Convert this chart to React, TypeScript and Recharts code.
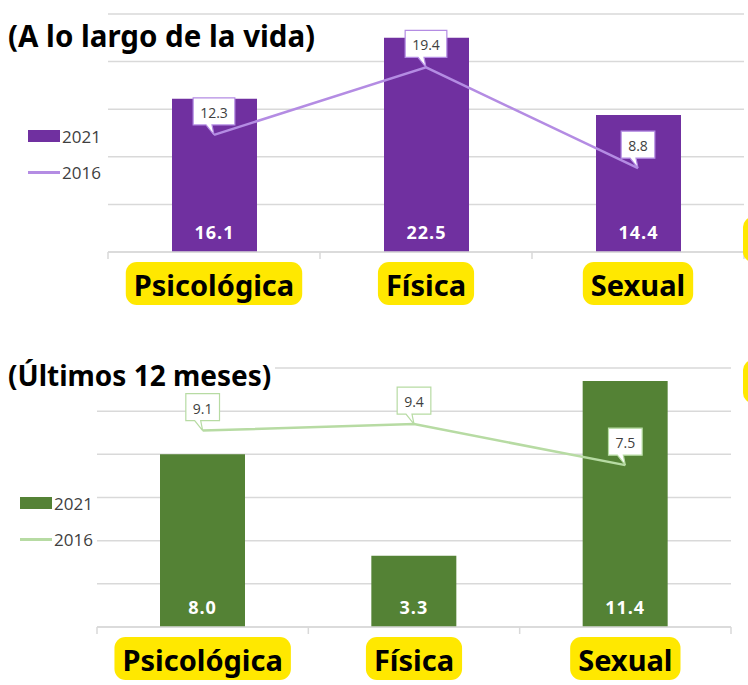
import React from 'react';
import { ComposedChart, Bar, Line, XAxis, YAxis, CartesianGrid, LabelList, Legend } from 'recharts';

const categories = ['Psicológica', 'Física', 'Sexual'];
const lifetime2021 = [16.1, 22.5, 14.4];
const lifetime2016 = [12.3, 19.4, 8.8];
const lastYear2021 = [8.0, 3.3, 11.4];
const lastYear2016 = [9.1, 9.4, 7.5];
const lifetimeTicks = [0, 5, 10, 15, 20, 25];
const lastYearTicks = [0, 2, 4, 6, 8, 10, 12];
const seriesNames = ['2021', '2016'];
const titles = ['(A lo largo de la vida)', '(Últimos 12 meses)'];

const lifetimeData = categories.map((c, i) => ({ name: c, v2021: lifetime2021[i], v2016: lifetime2016[i] }));
const lastYearData = categories.map((c, i) => ({ name: c, v2021: lastYear2021[i], v2016: lastYear2016[i] }));

const TITLE_FONT = '"Noto Sans", "Open Sans", sans-serif';
const SMALL_FONT = '"Open Sans", "Noto Sans", sans-serif';
const YELLOW = '#FFE800';

let canvasCtx: CanvasRenderingContext2D | null = null;
function measure(text: string, font: string): number {
  if (!canvasCtx) {
    const c = document.createElement('canvas');
    canvasCtx = c.getContext('2d');
  }
  if (!canvasCtx) return text.length * 10;
  canvasCtx.font = font;
  return canvasCtx.measureText(text).width;
}

const CategoryTick = (props: any) => {
  const { x, y, payload, width, visibleTicksCount } = props;
  const text = String(payload.value);
  const fontSize = 29;
  const tw = measure(text, `700 ${fontSize}px ${TITLE_FONT}`);
  const padX = 8;
  const n = visibleTicksCount || categories.length;
  const half = width ? width / n / 2 : 0;
  return (
    <g>
      {half > 0 && <line x1={x - half} y1={y} x2={x - half} y2={y + 7} stroke="#D9D9D9" strokeWidth={1.5} />}
      {half > 0 && props.index === n - 1 && (
        <line x1={x + half} y1={y} x2={x + half} y2={y + 7} stroke="#D9D9D9" strokeWidth={1.5} />
      )}
      <rect x={x - tw / 2 - padX} y={y + 10} width={tw + padX * 2} height={43} rx={11} ry={11} fill={YELLOW} />
      <text x={x} y={y + 32} textAnchor="middle" dominantBaseline="central" fontFamily={TITLE_FONT} fontWeight={700} fontSize={fontSize} fill="#000">
        {text}
      </text>
    </g>
  );
};

const makeCallout = (border: string) => (props: any) => {
  const { x, y, value } = props;
  const text = Number(value).toFixed(1);
  const tw = measure(text, `14px ${SMALL_FONT}`);
  const w = tw + 14;
  const h = 27;
  const bottom = y - 10;
  const left = x - w / 2;
  const top = bottom - h;
  const path = `M${left},${top} H${left + w} V${bottom} H${x - 2} L${x},${y} L${x - 8},${bottom} H${left} Z`;
  return (
    <g>
      <path d={path} fill="#FFFFFF" stroke={border} strokeWidth={1.2} />
      <text x={x} y={top + h / 2 + 1} textAnchor="middle" dominantBaseline="central" fontFamily={SMALL_FONT} fontSize={14} fill="#404040">
        {text}
      </text>
    </g>
  );
};

const BarValue = (props: any) => {
  const { x, y, width, height, value } = props;
  return (
    <text x={x + width / 2} y={y + height - 20} textAnchor="middle" dominantBaseline="central" fontFamily={SMALL_FONT} fontWeight={700} fontSize={18} letterSpacing={1} fill="#FFFFFF">
      {Number(value).toFixed(1)}
    </text>
  );
};

const LegendContent = (props: any) => {
  const items = [...(props.payload || [])].sort((a: any, b: any) => (a.type === 'rect' ? -1 : 0) - (b.type === 'rect' ? -1 : 0));
  return (
    <div style={{ fontFamily: SMALL_FONT, fontSize: 17, color: '#404040' }}>
      {items.map((p: any, i: number) => (
        <div key={i} style={{ display: 'flex', alignItems: 'center', height: 36 }}>
          {p.type === 'rect' ? (
            <div style={{ width: 32, height: 12, background: p.color, marginRight: 2 }} />
          ) : (
            <div style={{ width: 32, height: 3, background: p.color, marginRight: 2 }} />
          )}
          <span>{p.value}</span>
        </div>
      ))}
    </div>
  );
};

type PanelProps = {
  data: any[];
  ticks: number[];
  barColor: string;
  lineColor: string;
  title: string;
  titleSize: number;
  top: number;
  height: number;
  margin: { top: number; right: number; bottom: number; left: number };
  legendPos: { left: number; top: number };
  titleTop: number;
};

const Panel = ({ data, ticks, barColor, lineColor, title, titleSize, top, height, margin, legendPos, titleTop }: PanelProps) => (
  <div style={{ position: 'absolute', left: 0, top, width: 748, height }}>
    <ComposedChart width={748} height={height} data={data} margin={margin}>
      <CartesianGrid vertical={false} stroke="#D9D9D9" strokeWidth={1.5} />
      <XAxis
        dataKey="name"
        height={50}
        axisLine={{ stroke: '#D9D9D9', strokeWidth: 1.5 }}
        tickLine={false}
        tickSize={0}
        tickMargin={0}
        interval={0}
        tick={<CategoryTick />}
      />
      <YAxis hide width={0} domain={[ticks[0], ticks[ticks.length - 1]]} ticks={ticks} />
      <Legend
        layout="vertical"
        align="center"
        verticalAlign="middle"
        content={<LegendContent />}
        wrapperStyle={{ left: legendPos.left, top: legendPos.top, width: 110 }}
      />
      <Bar dataKey="v2021" name={seriesNames[0]} fill={barColor} barSize={85} isAnimationActive={false} legendType="rect">
        <LabelList dataKey="v2021" content={<BarValue />} />
      </Bar>
      <Line
        dataKey="v2016"
        name={seriesNames[1]}
        stroke={lineColor}
        strokeWidth={2.5}
        dot={false}
        activeDot={false}
        isAnimationActive={false}
        legendType="line"
      >
        <LabelList dataKey="v2016" content={makeCallout(lineColor)} />
      </Line>
    </ComposedChart>
    <div
      style={{
        position: 'absolute',
        left: 8,
        top: titleTop,
        fontFamily: TITLE_FONT,
        fontWeight: 700,
        fontSize: titleSize,
        lineHeight: '34px',
        background: '#FFFFFF',
        paddingRight: 4,
        color: '#000',
      }}
    >
      {title}
    </div>
  </div>
);

export default function App() {
  return (
    <div style={{ position: 'absolute', left: 0, top: 0, width: 748, height: 685, background: '#FFFFFF', overflow: 'hidden' }}>
      <Panel
        data={lifetimeData}
        ticks={lifetimeTicks}
        barColor="#7030A0"
        lineColor="#B48CE3"
        title={titles[0]}
        titleSize={29.5}
        top={0}
        height={310}
        margin={{ top: 14, right: 4, bottom: 8, left: 108 }}
        legendPos={{ left: 28, top: 118 }}
        titleTop={19}
      />
      <Panel
        data={lastYearData}
        ticks={lastYearTicks}
        barColor="#548235"
        lineColor="#B7DBA3"
        title={titles[1]}
        titleSize={28}
        top={340}
        height={345}
        margin={{ top: 28, right: 17, bottom: 8, left: 97 }}
        legendPos={{ left: 20, top: 145 }}
        titleTop={18}
      />
      <div style={{ position: 'absolute', left: 743, top: 217, width: 20, height: 45, background: YELLOW, borderRadius: 10 }} />
      <div style={{ position: 'absolute', left: 743, top: 360, width: 20, height: 43, background: YELLOW, borderRadius: 10 }} />
    </div>
  );
}
